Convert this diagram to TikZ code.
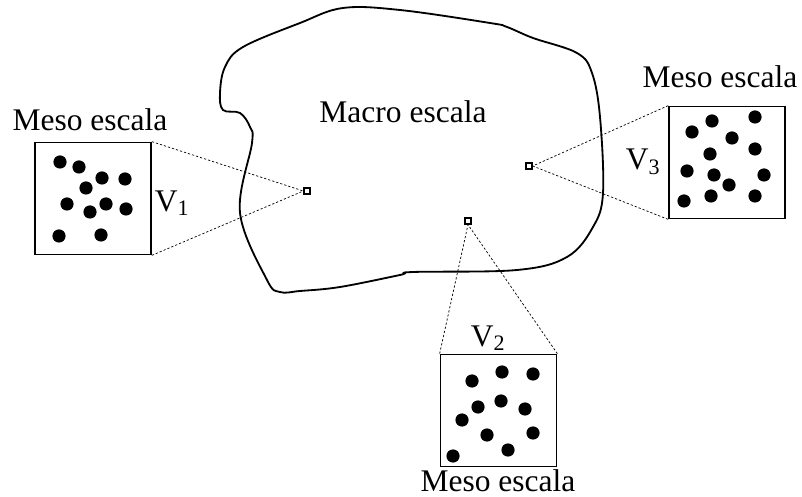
\documentclass[tikz,border=0pt]{standalone}
\usepackage{fontspec}
\setmainfont{Liberation Serif}
\usetikzlibrary{calc}

\begin{document}
\begin{tikzpicture}[x=0.025cm, y=-0.025cm,
    lbl/.style={font=\fontsize{22.4}{26}\selectfont, inner sep=0pt},
    mesobox/.style={draw, line width=1.2pt, minimum width=2.9cm, minimum height=2.8cm, inner sep=0pt},
    probe/.style={draw, line width=0.9pt, minimum size=0.15cm, inner sep=0pt},
    zoomline/.style={line width=0.5pt, dash pattern=on 1.6pt off 1.4pt},
    grain/.style={fill=black}]
    \useasboundingbox (0,0) rectangle (802,497);

    % --- Macro escala (contorno del dominio) ---
    \draw[line width=1.3pt] plot[smooth cycle, tension=0.6] coordinates {
        (225,67) (243,47) (300,23) (343,8) (400,10) (490,23) (507,27) (533,38)
        (577,53) (592,73) (600,117) (603,193) (593,227) (567,257) (517,270)
        (413,272) (400,275) (340,287) (300,291) (280,292) (267,280) (240,213)
        (252,143) (250,127) (240,113) (223,110) (220,93)};
    \node[lbl] (macro) at (403,112) {Macro escala};

    % --- Puntos de observacion ---
    \node[probe] (p1) at (307,191) {};
    \node[probe] (p2) at (468,221) {};
    \node[probe] (p3) at (529,166) {};

    % --- Volumen V1 (izquierda) ---
    \node[mesobox] (box1) at (93,198.5) {};
    \node[lbl] (meso1) at (90,120) {Meso escala};
    \node[lbl] (v1) at (172,203) {V\textsubscript{1}};
    \foreach \p in {(60,162),(79,167),(102,178),(125,179),(86,188),(67,204),
                    (106,204),(90,212),(126,209),(59,236),(101,235)}
        \fill[grain] \p circle (0.165cm);
    \draw[zoomline] (box1.north east) -- (p1.west);
    \draw[zoomline] (box1.south east) -- (p1.west);

    % --- Volumen V2 (abajo) ---
    \node[mesobox] (box2) at (498.5,410.5) {};
    \node[lbl] (meso2) at (498,481) {Meso escala};
    \node[lbl] (v2) at (488,338) {V\textsubscript{2}};
    \foreach \p in {(472,381),(502,372),(533,374),(478,407),(501,401),(525,409),
                    (462,420),(487,435),(533,433),(508,450),(453,456)}
        \fill[grain] \p circle (0.165cm);
    \draw[zoomline] (box2.north west) -- (p2.south);
    \draw[zoomline] (box2.north east) -- (p2.south);

    % --- Volumen V3 (derecha) ---
    \node[mesobox] (box3) at (727,162.5) {};
    \node[lbl] (meso3) at (720,77) {Meso escala};
    \node[lbl] (v3) at (643,162) {V\textsubscript{3}};
    \foreach \p in {(692,132),(712,121),(755,117),(732,138),(755,149),(710,154),
                    (687,171),(714,175),(729,185),(764,175),(684,201),(711,196),(755,196)}
        \fill[grain] \p circle (0.165cm);
    \draw[zoomline] (box3.north west) -- (p3.east);
    \draw[zoomline] (box3.south west) -- (p3.east);
\end{tikzpicture}
\end{document}
